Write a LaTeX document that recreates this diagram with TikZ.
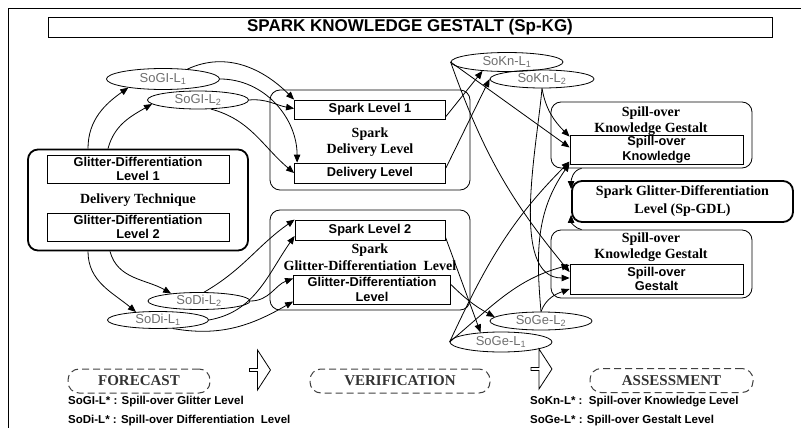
\documentclass[tikz,border=0pt]{standalone}
\usepackage{fontspec}
\setmainfont{Liberation Serif}
\setsansfont{Liberation Sans}
\usepackage{tikz}
\usetikzlibrary{
    shapes.geometric,
    shapes.arrows,
    arrows.meta,
    positioning
}
\definecolor{kggray}{HTML}{6E6E6E}
\tikzset{
    % Plain level box (sans text)
    kgbox/.style={
        rectangle,
        draw=black,
        line width=0.8pt,
        font=\sffamily\bfseries\fontsize{12.8}{14.5}\selectfont,
        align=center,
        inner sep=0pt
    },
    % Rounded group frame
    kggroup/.style={
        rectangle,
        rounded corners=10pt,
        draw=black,
        line width=0.8pt
    },
    % Thick rounded frame
    kgthick/.style={
        kggroup,
        line width=1.8pt
    },
    % Serif bold caption
    kgcaption/.style={
        font=\fontsize{14}{16.5}\selectfont\bfseries,
        align=center,
        inner sep=0pt
    },
    % Spill-over ellipse
    kgellipse/.style={
        ellipse,
        draw=black,
        line width=0.8pt,
        text=kggray,
        font=\sffamily\fontsize{13}{14}\selectfont,
        inner sep=0pt
    },
    % Phase label
    kgphase/.style={
        rectangle,
        rounded corners=11pt,
        draw=black!75,
        dash pattern=on 7pt off 4pt,
        line width=1pt,
        font=\fontsize{15}{17}\selectfont\bfseries,
        text=black!80,
        minimum height=24pt,
        inner sep=0pt
    },
    % Hollow block arrow
    kgflow/.style={
        single arrow,
        draw=black,
        line width=0.8pt,
        fill=white,
        minimum width=40pt,
        minimum height=21pt,
        single arrow head extend=5pt,
        single arrow tip angle=114,
        single arrow head indent=0pt,
        inner sep=0pt
    },
    % Legend line
    kgnote/.style={
        anchor=west,
        inner sep=0pt,
        font=\sffamily\bfseries\fontsize{11.5}{13}\selectfont
    },
    % Arrow style
    kgarrow/.style={
        -{Triangle[length=8pt,width=6.5pt]},
        line width=0.8pt
    }
}

\begin{document}
\begin{tikzpicture}[x=1pt, y=-1pt]
    \useasboundingbox (0,0) rectangle (801,428);

    % Outer frame (cut by the page)
    \draw[line width=0.8pt] (801,8) -- (8,8) -- (8,428);

    % Title
    \node[kgbox, minimum width=724pt, minimum height=20pt, font=\sffamily\bfseries\fontsize{17}{19}\selectfont] (title) at (410,27) {SPARK KNOWLEDGE GESTALT (Sp-KG)};

    % Delivery technique (left)
    \node[kgthick, kgcaption, minimum width=220pt, minimum height=101pt] (tech) at (138,200) {Delivery Technique};
    \node[kgbox, minimum width=182pt, minimum height=28pt, below=6pt of tech.north] (gd1) {Glitter-Differentiation\\Level 1};
    \node[kgbox, minimum width=182pt, minimum height=28pt, above=10pt of tech.south] (gd2) {Glitter-Differentiation\\Level 2};

    % Forecast ellipses
    \node[kgellipse, minimum width=113pt, minimum height=21pt] (sogi1) at (163,79) {SoGI-L\textsubscript{1}};
    \node[kgellipse, minimum width=101pt, minimum height=18pt] (sogi2) at (198,100) {SoGI-L\textsubscript{2}};
    \node[kgellipse, minimum width=102pt, minimum height=17pt] (sodi2) at (199,301) {SoDi-L\textsubscript{2}};
    \node[kgellipse, minimum width=101pt, minimum height=17pt] (sodi1) at (158,320) {SoDi-L\textsubscript{1}};

    % Spark delivery level
    \node[kggroup, minimum width=200pt, minimum height=100pt] (sdl) at (370,140) {};
    \node[kgbox, minimum width=151pt, minimum height=19pt, below=10pt of sdl.north] (sl1) {Spark Level 1};
    \node[kgcaption] (sdl-cap) at (370,142) {Spark\\Delivery Level};
    \node[kgbox, minimum width=151pt, minimum height=20pt, above=7pt of sdl.south] (dl) {Delivery Level};

    % Spark glitter-differentiation level
    \node[kggroup, minimum width=200pt, minimum height=100pt] (sgdl) at (370,260) {};
    \node[kgbox, minimum width=150pt, minimum height=20pt, below=10pt of sgdl.north] (sl2) {Spark Level 2};
    \node[kgcaption] (sgdl-cap) at (370,257) {Spark\\Glitter-Differentiation\ \ Level};
    \node[kgbox, minimum width=157pt, minimum height=29pt, above=6pt of sgdl.south, xshift=2pt] (gdl) {Glitter-Differentiation\\Level};

    % Spill-over ellipses (right)
    \node[kgellipse, minimum width=112pt, minimum height=19pt] (sokn1) at (507,62) {SoKn-L\textsubscript{1}};
    \node[kgellipse, minimum width=104pt, minimum height=18pt] (sokn2) at (542,79) {SoKn-L\textsubscript{2}};
    \node[kgellipse, minimum width=102pt, minimum height=18pt] (soge2) at (541,321) {SoGe-L\textsubscript{2}};
    \node[kgellipse, minimum width=102pt, minimum height=20pt] (soge1) at (501,342) {SoGe-L\textsubscript{1}};

    % Spill-over gestalt blocks (right)
    \node[kggroup, minimum width=201pt, minimum height=66pt] (sokg1) at (651.5,135) {};
    \node[kgcaption] (sokg1-cap) at (651,121) {Spill-over\\Knowledge Gestalt};
    \node[kgbox, minimum width=173pt, minimum height=29pt, above=4pt of sokg1.south, xshift=5pt] (sok) {Spill-over\\Knowledge};
    \node[kgthick, kgcaption, minimum width=221pt, minimum height=41pt, font=\fontsize{14}{18}\selectfont\bfseries] (spgdl) at (682.5,201.5) {Spark Glitter-Differentiation\\Level (Sp-GDL)};
    \node[kggroup, minimum width=201pt, minimum height=68pt] (sokg2) at (651.5,264) {};
    \node[kgcaption] (sokg2-cap) at (651,247) {Spill-over\\Knowledge Gestalt};
    \node[kgbox, minimum width=173pt, minimum height=30pt, above=4pt of sokg2.south, xshift=5pt] (sog) {Spill-over\\Gestalt};

    % Phases
    \node[kgflow] (flow1) at (259.5,370) {};
    \node[kgflow] (flow2) at (541,369) {};
    \node[kgphase, minimum width=142pt] (forecast) at (139,381) {FORECAST};
    \node[kgphase, minimum width=180pt] (verification) at (400,381) {VERIFICATION};
    \node[kgphase, minimum width=163pt] (assessment) at (671.5,380.5) {ASSESSMENT};

    % Legend
    \node[kgnote] (note-sogi) at (68,402) {SoGI-L* : Spill-over Glitter Level};
    \node[kgnote] (note-sodi) at (68,421) {SoDi-L* : Spill-over Differentiation\ \ Level};
    \node[kgnote] (note-sokn) at (530,402) {SoKn-L* :\ \ Spill-over Knowledge Level};
    \node[kgnote] (note-soge) at (530,421) {SoGe-L* : Spill-over Gestalt Level};

    % Technique to glitter ellipses
    \draw[kgarrow] ([xshift=-50pt]tech.north) to[out=90,in=215] (sogi1.194);
    \draw[kgarrow] ([xshift=-30pt]tech.north) to[out=75,in=210] (sogi2.185);
    \draw[kgarrow] (sogi1.22) to[out=25,in=135] (sl1.north west);
    \draw[kgarrow] (sogi1.east) to[out=0,in=90] ([xshift=3pt]dl.north west);
    \draw[kgarrow] (sogi2.east) to[out=5,in=170] ([yshift=1pt]sl1.west);
    \draw[kgarrow] (sogi2.-35) to[out=-15,in=140] (dl.west);

    % Technique to differentiation ellipses
    \draw[kgarrow] ([xshift=-50pt]tech.south) to[out=-90,in=140] (sodi1.160);
    \draw[kgarrow] ([xshift=-28pt]tech.south) to[out=-75,in=150] (sodi2.165);
    \draw[kgarrow] (sodi2.60) to[out=30,in=215] (sl2.north west);
    \draw[kgarrow] (sodi1.east) to[out=10,in=235] ([yshift=-6pt]sl2.west);
    \draw[kgarrow] (sodi2.east) to[out=0,in=200] ([yshift=11pt]gdl.west);
    \draw[kgarrow] (sodi1.-30) to[out=-10,in=210] ([yshift=-12pt]gdl.west);

    % Levels to spill-over ellipses
    \draw[kgarrow] ([yshift=-7pt]sl1.east) -- (sokn1.200);
    \draw[kgarrow] ([yshift=5pt]dl.east) -- (sokn2.west);
    \draw[kgarrow] ([yshift=-7pt]sl2.east) -- (soge1.155);
    \draw[kgarrow] ([yshift=5pt]gdl.east) to[bend right=8] (soge2.175);

    % Spill-over ellipses to gestalt
    \draw[kgarrow] (sokn1.west) -- ([yshift=2pt]sok.west);
    \draw[kgarrow] (sokn1.west) to[bend right=10] ([yshift=7pt]sog.west);
    \draw[kgarrow] (sokn2.south) to[out=-80,in=135] ([yshift=-2pt]sok.north west);
    \draw[kgarrow] (sokn2.south) to[out=-95,in=180,looseness=0.8] ([yshift=1pt]sog.west);
    \draw[kgarrow] (soge1.west) to[out=65,in=225] ([yshift=-12pt]sok.west);
    \draw[kgarrow] (soge1.west) to[out=40,in=195] ([yshift=14pt]sog.west);
    \draw[kgarrow] (soge2.north) to[out=95,in=235] ([yshift=-14pt]sok.west);
    \draw[kgarrow] (soge2.north) to[out=70,in=200] ([yshift=-10pt]sog.west);

    % Gestalt to Sp-GDL
    \draw[kgarrow] ([xshift=31pt]sokg1.south west) to[out=190,in=90] ([yshift=-9pt]spgdl.north west);
    \draw[kgarrow] ([xshift=31pt]sokg2.north west) to[out=170,in=-90] ([yshift=8pt]spgdl.south west);

\end{tikzpicture}
\end{document}
